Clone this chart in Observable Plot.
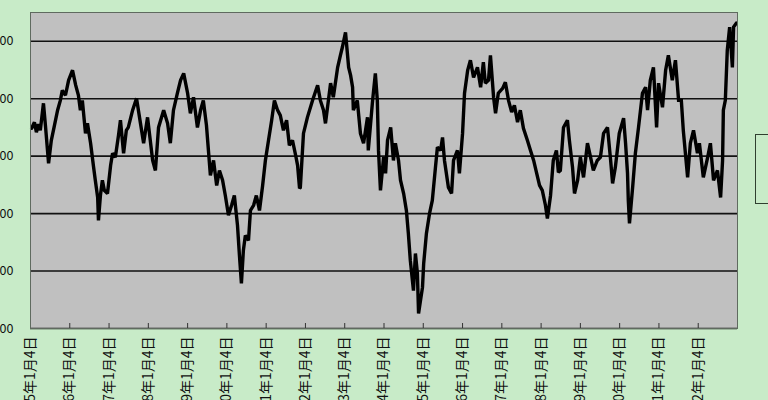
<!DOCTYPE html>
<html>
<head>
<meta charset="utf-8">
<script src="https://cdn.jsdelivr.net/npm/d3@7"></script>
<script src="https://cdn.jsdelivr.net/npm/@observablehq/plot@0.6"></script>
<style>
  html, body { margin: 0; padding: 0; }
  body { width: 768px; height: 400px; overflow: hidden; background: #c8ebc8; position: relative; font-family: "Noto Sans CJK JP", sans-serif; }
  #chart { position: absolute; left: 0; top: 0; }
  #legend { position: absolute; left: 755px; top: 134px; width: 70px; height: 70px; border: 1px solid #2f3f2f; background: #c8ebc8; box-sizing: border-box; }
  #legend .sw { position: absolute; left: 18px; top: 34px; width: 20px; height: 0; border-top: 2px solid #000; }
</style>
</head>
<body>
<div id="chart"></div>
<div id="legend"><span class="sw"></span></div>
<script>
// decimal year (1985.00 = 1985年1月4日)
const dates = [
1985.03,1985.10,1985.15,1985.20,1985.25,1985.33,1985.38,1985.46,1985.53,1985.61,
1985.69,1985.76,1985.81,1985.89,1985.97,1986.07,1986.15,1986.22,1986.27,1986.32,
1986.40,1986.45,1986.53,1986.60,1986.65,1986.71,1986.73,1986.78,1986.83,1986.88,
1986.96,1987.04,1987.09,1987.16,1987.24,1987.29,1987.37,1987.44,1987.49,1987.60,
1987.70,1987.80,1987.88,1987.98,1988.11,1988.18,1988.26,1988.39,1988.49,1988.56,
1988.64,1988.74,1988.82,1988.90,1989.00,1989.07,1989.15,1989.25,1989.33,1989.40,
1989.48,1989.53,1989.58,1989.66,1989.74,1989.81,1989.89,1989.96,1990.04,1990.12,
1990.19,1990.27,1990.32,1990.37,1990.42,1990.47,1990.55,1990.60,1990.68,1990.75,
1990.83,1990.91,1990.98,1991.06,1991.14,1991.21,1991.29,1991.36,1991.44,1991.52,
1991.59,1991.67,1991.75,1991.80,1991.85,1991.87,1991.95,1992.05,1992.18,1992.31,
1992.38,1992.46,1992.51,1992.64,1992.71,1992.82,1992.89,1992.94,1993.02,1993.10,
1993.15,1993.20,1993.22,1993.32,1993.40,1993.48,1993.58,1993.60,1993.71,1993.78,
1993.83,1993.86,1993.91,1993.99,1994.04,1994.09,1994.17,1994.24,1994.29,1994.37,
1994.42,1994.50,1994.57,1994.62,1994.67,1994.75,1994.80,1994.85,1994.88,1994.93,
1994.98,1995.01,1995.08,1995.16,1995.23,1995.31,1995.36,1995.44,1995.49,1995.54,
1995.64,1995.72,1995.77,1995.87,1995.92,1996.00,1996.05,1996.13,1996.20,1996.28,
1996.38,1996.46,1996.53,1996.58,1996.66,1996.71,1996.79,1996.84,1996.91,1997.02,
1997.09,1997.17,1997.25,1997.32,1997.40,1997.47,1997.55,1997.65,1997.73,1997.81,
1997.88,1997.96,1998.03,1998.11,1998.16,1998.24,1998.31,1998.39,1998.44,1998.49,
1998.57,1998.67,1998.72,1998.80,1998.85,1998.93,1999.00,1999.08,1999.18,1999.26,
1999.33,1999.43,1999.51,1999.59,1999.69,1999.77,1999.82,1999.89,1999.99,2000.10,
2000.15,2000.20,2000.22,2000.25,2000.33,2000.40,2000.48,2000.58,2000.66,2000.71,
2000.78,2000.86,2000.94,2000.99,2001.09,2001.17,2001.24,2001.34,2001.42,2001.50,
2001.57,2001.62,2001.73,2001.80,2001.88,2001.98,2002.03,2002.13,2002.24,2002.31,
2002.39,2002.49,2002.57,2002.62,2002.64,2002.69,2002.74,2002.80,2002.87,2002.90,
2002.97
];
const values = [
1697,1718,1683,1711,1690,1784,1707,1575,1655,1707,
1760,1794,1829,1812,1864,1899,1847,1812,1760,1794,
1679,1714,1645,1568,1516,1456,1376,1463,1516,1481,
1470,1568,1610,1596,1672,1725,1610,1690,1700,1760,
1801,1714,1645,1735,1585,1550,1700,1760,1714,1645,
1760,1819,1864,1888,1819,1749,1805,1700,1760,1794,
1707,1620,1533,1585,1498,1550,1516,1463,1394,1429,
1463,1359,1254,1157,1272,1324,1307,1411,1429,1463,
1411,1498,1585,1655,1725,1794,1760,1742,1690,1725,
1638,1655,1603,1568,1488,1491,1679,1735,1794,1847,
1794,1760,1714,1854,1805,1909,1951,1979,2031,1909,
1881,1840,1760,1794,1679,1645,1735,1620,1794,1888,
1794,1620,1481,1596,1540,1655,1700,1585,1645,1585,
1516,1470,1411,1331,1237,1132,1261,1192,1052,1098,
1143,1226,1331,1401,1446,1561,1631,1620,1665,1585,
1491,1470,1585,1620,1540,1679,1819,1899,1934,1874,
1909,1840,1927,1854,1864,1951,1805,1749,1819,1836,
1857,1794,1753,1777,1718,1760,1697,1655,1620,1585,
1544,1498,1481,1429,1383,1463,1585,1620,1544,1550,
1700,1725,1655,1561,1470,1516,1596,1526,1645,1596,
1550,1585,1596,1679,1700,1585,1505,1561,1679,1732,
1645,1540,1446,1366,1491,1610,1700,1819,1840,1760,
1864,1909,1700,1854,1770,1899,1951,1864,1934,1794,
1794,1690,1526,1645,1690,1610,1645,1526,1596,1645,
1516,1550,1456,1585,1760,1794,1969,2049,1909,2049,
2063
];
const tickYears = d3.range(1985, 2003);
const gridValues = [1000, 1200, 1400, 1600, 1800, 2000];

const series = dates.map((d, i) => ({date: d, value: values[i]}));

const chart = Plot.plot({
  width: 768,
  height: 400,
  marginTop: 12,
  marginBottom: 72,
  marginLeft: 30,
  marginRight: 31,
  style: {background: "transparent", fontFamily: "'Noto Sans CJK JP', sans-serif", fontSize: "12px", color: "#000"},
  x: {type: "linear", domain: [1985, 2003]},
  y: {domain: [1000, 2100]},
  marks: [
    Plot.frame({fill: "#c0c0c0", stroke: null}),
    Plot.ruleY(gridValues, {stroke: "#111", strokeWidth: 1.6}),
    Plot.line(series, {x: "date", y: "value", stroke: "#000", strokeWidth: 3.4, strokeLinejoin: "miter", strokeMiterlimit: 2}),
    Plot.ruleX(tickYears, {stroke: "#333", strokeWidth: 1, insetTop: 311}),
    Plot.frame({stroke: "#5f6a5f", strokeWidth: 1}),
    Plot.axisY(gridValues, {tickSize: 0, tickPadding: 17, fontSize: 12.5, fill: "#111", label: null}),
    Plot.axisX(tickYears, {tickSize: 0, tickPadding: 8, tickRotate: -90, fontSize: 14, fill: "#111", label: null,
      tickFormat: d => `${d}年1月4日`})
  ]
});
document.getElementById("chart").appendChild(chart);
</script>
</body>
</html>
